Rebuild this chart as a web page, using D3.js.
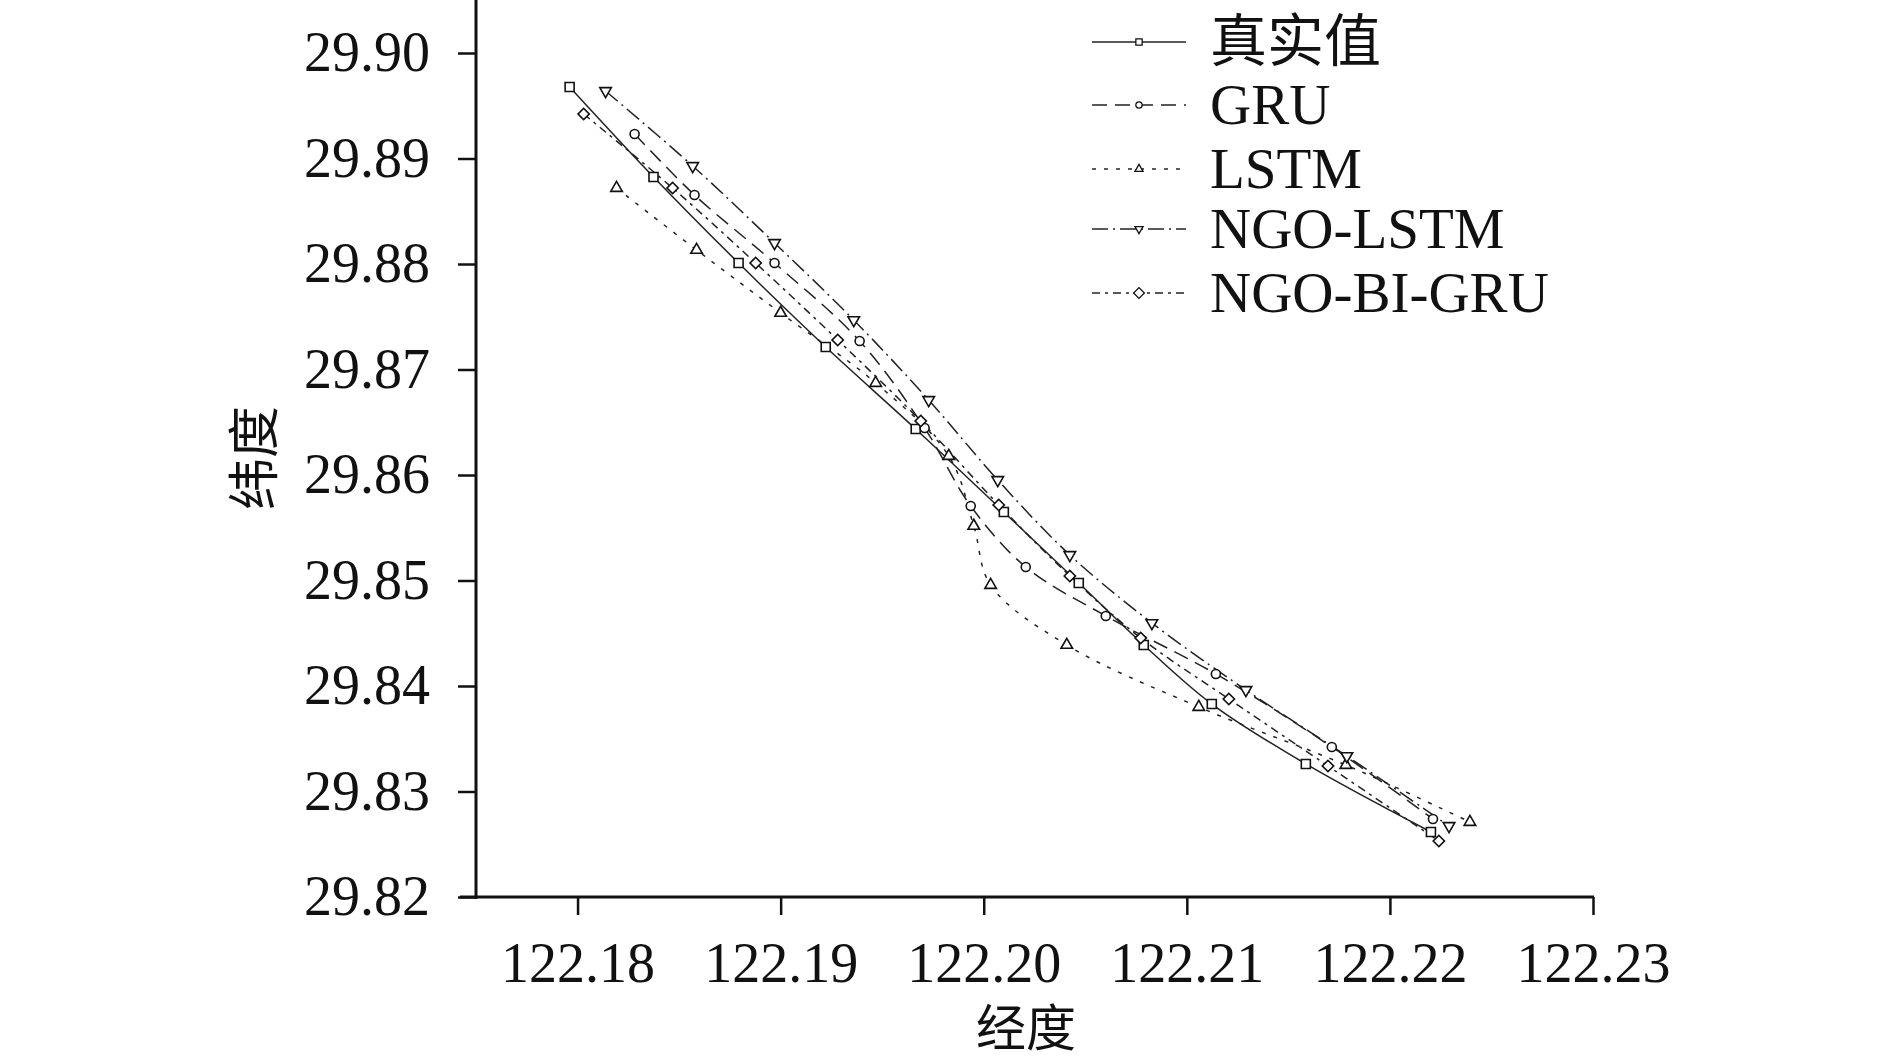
<!DOCTYPE html>
<html>
<head>
<meta charset="utf-8">
<script src="https://cdn.jsdelivr.net/npm/d3@7"></script>
<style>
  html, body { margin: 0; padding: 0; background: #fff; }
  svg text { font-family: "Liberation Serif", "Noto Sans CJK SC", serif; fill: #111; }
  .cjk { font-family: "Noto Sans CJK SC", sans-serif; }
</style>
</head>
<body>
<svg id="chart" width="1890" height="1064"></svg>
<script>
// series: [longitude, latitude]
const trueVals = [
  [122.17961, 29.89678], [122.18374, 29.88825], [122.18793, 29.88009], [122.19222, 29.87213],
  [122.19665, 29.86436], [122.20099, 29.85649], [122.20468, 29.84976], [122.20788, 29.84389],
  [122.21123, 29.83829], [122.21586, 29.83261], [122.22202, 29.82616]
];
const gruVals = [
  [122.18281, 29.89232], [122.18576, 29.88654], [122.18970, 29.88009], [122.19389, 29.87270],
  [122.19709, 29.86445], [122.19936, 29.85706], [122.20207, 29.85128], [122.20601, 29.84664],
  [122.21143, 29.84114], [122.21714, 29.83422], [122.22212, 29.82739]
];
const lstmVals = [
  [122.18192, 29.88720], [122.18586, 29.88133], [122.19000, 29.87536], [122.19468, 29.86872],
  [122.19828, 29.86180], [122.19951, 29.85517], [122.20034, 29.84957], [122.20409, 29.84389],
  [122.21059, 29.83801], [122.21783, 29.83251], [122.22394, 29.82711]
];
const ngoLstmVals = [
  [122.18138, 29.89640], [122.18567, 29.88929], [122.18970, 29.88199], [122.19360, 29.87469],
  [122.19729, 29.86711], [122.20069, 29.85953], [122.20424, 29.85242], [122.20828, 29.84597],
  [122.21291, 29.83962], [122.21788, 29.83336], [122.22291, 29.82673]
];
const ngoBiGruVals = [
  [122.18030, 29.89422], [122.18468, 29.88720], [122.18877, 29.88009], [122.19281, 29.87280],
  [122.19690, 29.86512], [122.20074, 29.85716], [122.20424, 29.85043], [122.20773, 29.84455],
  [122.21207, 29.83877], [122.21695, 29.83242], [122.22241, 29.82531]
];

const seriesNames = ["真实值", "GRU", "LSTM", "NGO-LSTM", "NGO-BI-GRU"];
const xTicks = [122.18, 122.19, 122.20, 122.21, 122.22, 122.23];
const yTicks = [29.82, 29.83, 29.84, 29.85, 29.86, 29.87, 29.88, 29.89, 29.90];

const svg = d3.select("#chart");

const x = d3.scaleLinear().domain([122.175, 122.23]).range([476, 1593]);
const y = d3.scaleLinear().domain([29.82, 29.905]).range([897, 0.25]);

const styles = [
  { data: trueVals, dash: null, marker: "square" },
  { data: gruVals, dash: "15,8", marker: "circle" },
  { data: lstmVals, dash: "4,8", marker: "up" },
  { data: ngoLstmVals, dash: "16,5,2,5", marker: "down" },
  { data: ngoBiGruVals, dash: "8,5,3,5", marker: "diamond" }
];

// marker paths
const markerPath = (type, k) => {
  if (type === "square") return d3.symbol(d3.symbolSquare, 81 * k * k)();
  if (type === "circle") return d3.symbol(d3.symbolCircle, 64 * k * k)();
  if (type === "up" || type === "down") return d3.symbol(d3.symbolTriangle, 58 * k * k)();
  if (type === "diamond") return d3.symbol(d3.symbolSquare, 64 * k * k)();
};
const markerRot = type => type === "down" ? 180 : (type === "diamond" ? 45 : 0);

const line = d3.line()
  .x(d => x(d[0]))
  .y(d => y(d[1]))
  .curve(d3.curveCatmullRom.alpha(0.5));

// lines
styles.forEach(s => {
  svg.append("path")
    .datum(s.data)
    .attr("d", line)
    .attr("fill", "none")
    .attr("stroke", "#222")
    .attr("stroke-width", 1.5)
    .attr("stroke-dasharray", s.dash);
});

// markers
styles.forEach(s => {
  svg.append("g").selectAll("path")
    .data(s.data)
    .join("path")
    .attr("d", markerPath(s.marker, 1))
    .attr("transform", d => `translate(${x(d[0])},${y(d[1])}) rotate(${markerRot(s.marker)})`)
    .attr("fill", "#fff")
    .attr("stroke", "#111")
    .attr("stroke-width", 1.6);
});

// x axis
const xAxisG = svg.append("g").attr("transform", "translate(0,897)");
xAxisG.call(d3.axisBottom(x).tickValues(d3.range(122.175, 122.2301, 0.005)).tickSize(9).tickFormat(""))
  .call(g => g.select(".domain").remove());
xAxisG.call(d3.axisBottom(x).tickValues(xTicks).tickSize(18).tickSizeOuter(0).tickPadding(27).tickFormat(d3.format(".2f")));
xAxisG.selectAll("text").style("font-size", "56px").attr("fill", "#111");
xAxisG.selectAll("line").attr("stroke-width", 2.5).attr("stroke", "#111");
xAxisG.selectAll(".domain").attr("stroke-width", 3).attr("stroke", "#111")
  .attr("d", "M460,0H1594");

// y axis
const yAxisG = svg.append("g").attr("transform", "translate(476,0)");
yAxisG.call(d3.axisLeft(y).tickValues(d3.range(29.825, 29.9, 0.01)).tickSize(9).tickFormat(""))
  .call(g => g.select(".domain").remove());
yAxisG.call(d3.axisLeft(y).tickValues(yTicks).tickSize(18).tickSizeOuter(0).tickPadding(28).tickFormat(d3.format(".2f")));
yAxisG.selectAll("text").style("font-size", "56px").attr("fill", "#111");
yAxisG.selectAll("line").attr("stroke-width", 2.5).attr("stroke", "#111");
yAxisG.selectAll(".domain").attr("stroke-width", 3).attr("stroke", "#111")
  .attr("d", "M0,0V899");

// axis titles
svg.append("text").attr("class", "cjk")
  .attr("x", 1026).attr("y", 1024)
  .attr("text-anchor", "middle").attr("dominant-baseline", "central")
  .style("font-size", "50px").text("经度");
svg.append("text").attr("class", "cjk")
  .attr("transform", "translate(250,458) rotate(-90)")
  .attr("text-anchor", "middle").attr("dominant-baseline", "central")
  .style("font-size", "52px").text("纬度");

// legend
const legendY = [42, 105, 169, 229, 293];
const legend = svg.append("g");
styles.forEach((s, i) => {
  const g = legend.append("g").attr("transform", `translate(0,${legendY[i]})`);
  g.append("line")
    .attr("x1", 1092).attr("x2", 1186)
    .attr("stroke", "#222").attr("stroke-width", 1.5)
    .attr("stroke-dasharray", s.dash);
  g.append("path")
    .attr("d", markerPath(s.marker, s.marker === "diamond" ? 0.95 : 0.7))
    .attr("transform", `translate(1139,0) rotate(${markerRot(s.marker)})`)
    .attr("fill", "#fff").attr("stroke", "#111").attr("stroke-width", 1.3);
  g.append("text")
    .attr("x", 1210).attr("y", 19)
    .style("font-size", "57px")
    .text(seriesNames[i]);
});
</script>
</body>
</html>
